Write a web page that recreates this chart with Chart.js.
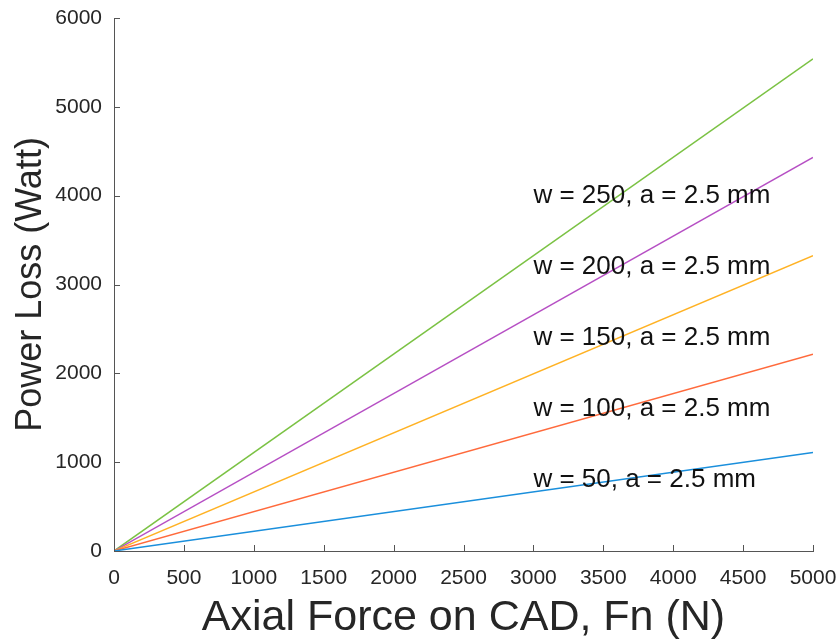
<!DOCTYPE html>
<html>
<head>
<meta charset="utf-8">
<script src="https://cdn.jsdelivr.net/npm/chart.js@4.4.0/dist/chart.umd.min.js"></script>
<style>
  html, body { margin: 0; padding: 0; background: #fff; }
  #wrap { width: 840px; height: 644px; }
</style>
</head>
<body>
<div id="wrap"><canvas id="lossChart" width="840" height="644"></canvas></div>
<script>
// axial force (N) at the two ends of each line
const forceN = [0, 5000];
// power loss (W) for each wheel speed w
const lossW50 = [0, 1108];
const lossW100 = [0, 2216];
const lossW150 = [0, 3324];
const lossW200 = [0, 4432];
const lossW250 = [0, 5540];

const seriesNames = ['w = 50, a = 2.5 mm', 'w = 100, a = 2.5 mm', 'w = 150, a = 2.5 mm',
                     'w = 200, a = 2.5 mm', 'w = 250, a = 2.5 mm'];
const seriesColors = ['#1a8fdc', '#ff6a3c', '#ffb224', '#b64fc4', '#7bc244'];
// where the text labels sit (data units)
const labelX = 3000;
const labelY = [800, 1600, 2400, 3200, 4000];

const xTicks = [0, 500, 1000, 1500, 2000, 2500, 3000, 3500, 4000, 4500, 5000];
const yTicks = [0, 1000, 2000, 3000, 4000, 5000, 6000];

const font = '"Liberation Sans", Arial, Helvetica, sans-serif';
const axisColor = '#555555';
const textColor = '#262626';

function toPoints(ys) {
    return forceN.map((x, i) => ({ x: x, y: ys[i] }));
}

const allLoss = [lossW50, lossW100, lossW150, lossW200, lossW250];

// inward tick marks + line labels, matlab style
const matlabBits = {
    id: 'matlabBits',
    afterDatasetsDraw(chart) {
        const c = chart.ctx;
        const xs = chart.scales.x, ys = chart.scales.y;
        c.save();
        c.strokeStyle = axisColor;
        c.lineWidth = 1;
        c.beginPath();
        xTicks.forEach(v => {
            const px = Math.round(xs.getPixelForValue(v)) + 0.5;
            c.moveTo(px, ys.bottom);
            c.lineTo(px, ys.bottom - 6);
        });
        yTicks.forEach(v => {
            const py = Math.round(ys.getPixelForValue(v)) + 0.5;
            c.moveTo(xs.left, py);
            c.lineTo(xs.left + 6, py);
        });
        c.stroke();

        c.fillStyle = '#111';
        c.font = '26px ' + font;
        c.textAlign = 'left';
        c.textBaseline = 'middle';
        seriesNames.forEach((name, i) => {
            c.fillText(name, xs.getPixelForValue(labelX), ys.getPixelForValue(labelY[i]));
        });
        c.restore();
    }
};

const ctx = document.getElementById('lossChart').getContext('2d');
new Chart(ctx, {
    type: 'scatter',
    data: {
        datasets: allLoss.map((ys, i) => ({
            label: seriesNames[i],
            data: toPoints(ys),
            showLine: true,
            borderColor: seriesColors[i],
            backgroundColor: seriesColors[i],
            borderWidth: 1.5,
            pointRadius: 0
        }))
    },
    options: {
        responsive: false,
        animation: false,
        layout: { padding: { top: 18, right: 27, left: 0, bottom: 0 } },
        plugins: {
            legend: { display: false },
            tooltip: { enabled: false }
        },
        scales: {
            x: {
                type: 'linear',
                min: 0,
                max: 5000,
                afterBuildTicks: s => { s.ticks = xTicks.map(v => ({ value: v })); },
                afterFit: s => { s.height = 93; s.paddingLeft = 0; s.paddingRight = 0; },
                grid: { display: false, drawTicks: false },
                border: { display: true, color: axisColor, width: 1 },
                ticks: {
                    padding: 15,
                    color: textColor,
                    font: { family: font, size: 21 },
                    maxRotation: 0,
                    autoSkip: false,
                    callback: v => String(v)
                },
                title: {
                    display: true,
                    text: 'Axial Force on CAD, Fn (N)',
                    color: textColor,
                    font: { family: font, size: 43 },
                    padding: { top: 0, bottom: 0 }
                }
            },
            y: {
                type: 'linear',
                min: 0,
                max: 6000,
                afterBuildTicks: s => { s.ticks = yTicks.map(v => ({ value: v })); },
                afterFit: s => { s.width = 114; s.paddingTop = 0; s.paddingBottom = 0; },
                grid: { display: false, drawTicks: false },
                border: { display: true, color: axisColor, width: 1 },
                ticks: {
                    padding: 12,
                    color: textColor,
                    font: { family: font, size: 21 },
                    autoSkip: false,
                    callback: v => String(v)
                },
                title: {
                    display: true,
                    text: 'Power Loss (Watt)',
                    color: textColor,
                    font: { family: font, size: 36 },
                    padding: { top: 9, bottom: 0 }
                }
            }
        }
    },
    plugins: [matlabBits]
});
</script>
</body>
</html>
